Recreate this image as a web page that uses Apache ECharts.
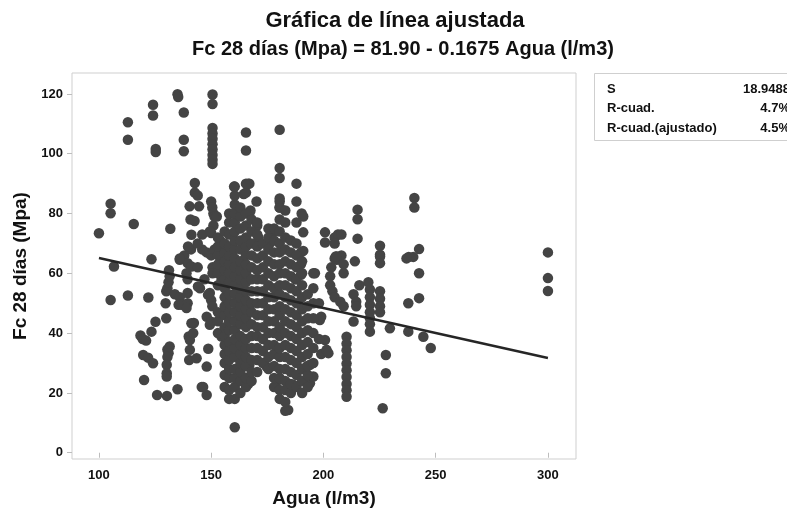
<!DOCTYPE html>
<html>
<head>
<meta charset="utf-8">
<script src="https://cdn.jsdelivr.net/npm/echarts@6/dist/echarts.min.js"></script>
<style>html,body{margin:0;padding:0;background:#fff}#c{width:787px;height:519px}</style>
</head>
<body>
<div id="c"></div>
<script>
// ---- Texts ----
const titulo = 'Gráfica de línea ajustada';
const subtitulo = 'Fc 28 días (Mpa) = 81.90 - 0.1675 Agua (l/m3)';
const ejeX = 'Agua (l/m3)';
const ejeY = 'Fc 28 días (Mpa)';
const ticksX = [100, 150, 200, 250, 300];
const ticksY = [0, 20, 40, 60, 80, 100, 120];
const estadisticas = [['S', '18.9488'], ['R-cuad.', '4.7%'], ['R-cuad.(ajustado)', '4.5%']];
const intercepto = 81.90;
const pendiente = -0.1675;

// ---- Scattered points [Agua, Fc] ----
const puntosIzquierda = [
  [100,73.4],[105.2,83.3],[105.2,80.1],[106.7,62.3],[105.2,51.1],[112.9,110.5],[112.9,104.7],[112.9,52.6],[115.5,76.5],
  [118.5,39.2],[119.5,38],[121,37.5],[119.7,32.7],[121.9,31.8],[124.1,29.9],[120.1,24.3],[122,51.9],[123.4,64.7],
  [125.2,43.8],[123.4,40.5],[125.9,19.3],[124.1,116.4],[124.1,112.8],[125.3,101.6],[125.3,100.6],
  [130,45],[130.3,19],[135,21.2],[129.7,50],[130,54],[130.5,55],[131,57],[131.5,59],[131.2,61],[133.8,53],[131.8,74.9],
  [130.5,34.5],[131.5,35.5],[131,33.3],[130.5,32],[130.2,29.4],[130.2,26.6],[130.2,25.5],
  [135,119.9],[135.3,119],[137.8,113.8],[137.8,104.7],[137.8,100.8],
  [136,52],[135.5,49.5],[137,49.5],[138,66],[136,64.5],[139.5,63.4],[139,60],[139.5,58],[139.5,53.4],[139.5,50],[139,48.4],
  [145,55],[142.3,43.4],[140,38.9],[140.5,37.7],[140.5,34.4],[140.2,31],[143.5,31.6],[141.2,43.3],[142,40],
  [148,45.5],[150,43.8],[148.7,34.8],[148,28.8],[145.8,22],[148,19.3],[146.4,22],[149.4,53.4],[150,51],[150.5,49],
  [154.6,57.8],[154.6,38.9],[149.4,42.8],
  [142.7,90.2],[142.7,87],[144,86],[140.4,82.4],[144.6,82.4],[140.8,78],[142.6,77.5],[141.2,72.9],[146,73],[150,73.5],
  [150,84],[150.5,82],[151,80],[151.5,79],[152.5,79],[151,76],[154,71],[148,67],[150,66],[151.5,68],[141,68],[146,68],[136,65],
  [139.7,69],[144,70],[149.4,74],[141.2,62.3],[144.1,55.6],[148.6,52.8],
  [150.6,119.8],[150.6,116.6],[150.6,108.6],[150.6,106.8],[150.6,105],[150.6,103.2],[150.6,101.4],[150.6,99.6],[150.6,98],[150.6,96.6],
  [150.6,62],[150.6,60],[147,58],[144,62]
];

const puntosCentroSueltos = [
  [165.5,107.1],[165.5,101.1],[180.5,108],[180.5,95.2],[180.5,91.9],[188,90],[188,84],[170.2,84],[167,90],
  [166.5,90],[164.5,86.5],[167,80],[167.5,81],[160.2,89],[190.3,80],[191,79],[188,77],[191,73.7],[180.5,82],
  [180.5,84],[170.5,76],[171,72],[176,70],[178,74],[176,72],[190,67],[191,67.5],[196.2,60],[187.5,58],
  [195.5,60],[190,63],[190,59.5],[174.7,28.8],[179.9,24.3],[184.3,14.3],[194,23.2],[195.5,25.5],[186.6,22.7],
  [192.5,28.8],[194,29.4],[166.5,23],[163.5,25.5],[167,29.3]
];

const puntosDerecha = [
  [200.7,73.7],[200.7,70.3],[205,72],[206.5,73],[208,73],[205,70],[215.2,81.3],[215.2,78.1],[215.2,71.6],
  [225.2,69.2],[225.2,66.2],[240.5,85.2],[240.5,82],[242.6,68.1],[238,65.5],[240,65.5],[205,65],[208,66],
  [205.9,65.6],[205.9,64.5],[214,64],[225.2,65.6],[225.2,63.4],[237,65],[242.6,60],[242.6,51.7],[237.8,50],
  [203.5,62],[203,59],[203,56],[204,54],[205,52],[207.5,50.5],[209,49],[209,60],[209,63],[205.5,65.6],
  [213.4,53],[214.6,50.5],[214.6,49],[213.4,43.9],[216,56],[220,57],
  [220.7,54.6],[220.7,52],[220.7,49.5],[220.7,47],[220.7,45],[220.7,43],[220.7,40.5],
  [225.2,54],[225.2,51.5],[225.2,49],[225.2,47],[229.6,41.6],[237.8,40.5],[244.5,38.8],[247.8,35],
  [210.3,38.8],[210.3,36.5],[210.3,34.3],[210.3,32],[210.3,29.8],[210.3,27.6],[210.3,25.3],[210.3,23],[210.3,20.9],[210.3,18.7],
  [227.8,32.7],[227.8,26.6],[226.4,14.9],
  [199,33],[200.7,37.7],[201.4,34.4],[198.4,44.4],[199,45.5],[202.2,33.3],
  [300,67],[300,58.4],[300,54.1]
];

// ---- Dense vertical bands: [Agua, [Fc values]] ----
const columnasDensas = [
  [153,   [40,44,47,56,60,63,66,69,72]],
  [156,   [22,26,30,33,36,39,42,46,49,52,55,58,61,64,67,70,74]],
  [158,   [18,21,25,28,31,34,37,41,44,47,50,53,57,60,63,66,69,73,77,80]],
  [160.5, [8.5,18,22,25,28,32,35,38,41,44,47,50,53,56,59,62,65,68,71,74,77,80,83,86,89]],
  [163,   [20,24,27,30,33,36,39,43,46,49,52,55,58,61,64,68,71,75,79,82]],
  [165.5, [22,25,29,32,35,38,42,45,48,51,54,57,60,63,66,69,72,76,80,87,90]],
  [168,   [24,27,31,35,39,43,47,50,54,58,62,66,70,74,78]],
  [170.5, [27,31,35,39,42,46,50,54,58,61,65,69,73,77]],
  [173,   [30,34,38,42,46,50,54,58,62,66,70]],
  [175.5, [28,32,36,40,44,48,52,56,60,64,68,72,75]],
  [178,   [22,25,29,33,36,40,44,48,52,55,59,63,67,71,75]],
  [180.5, [18,21,25,28,32,35,39,42,46,49,53,56,60,63,67,70,74,78,82,85]],
  [183,   [14,17,21,24,28,32,36,40,44,48,52,56,60,64,68,72,77,81]],
  [185.5, [20,23,27,31,35,39,43,47,51,55,59,63,67,71]],
  [188,   [22,26,30,34,38,42,46,50,54,58,62,66,70]],
  [190.5, [20,24,28,32,36,40,44,48,52,56,60,64]],
  [193,   [22,26,29,33,37,41,45,49,53]],
  [195.5, [30,35,40,45,50,55]],
  [198,   [38,50]]
];

// ---- Build scatter data ----
const datos = [].concat(puntosIzquierda, puntosCentroSueltos, puntosDerecha);
columnasDensas.forEach(([x, ys]) => ys.forEach(y => datos.push([x, y])));

const xs = datos.map(d => d[0]);
const xMin = Math.min.apply(null, xs), xMax = Math.max.apply(null, xs);
const lineaAjuste = [[xMin, intercepto + pendiente * xMin], [xMax, intercepto + pendiente * xMax]];

const FONT = '"Liberation Sans", Arial, Helvetica, sans-serif';
const chart = echarts.init(document.getElementById('c'), null, {renderer: 'canvas'});

const statGraphics = [{
  type: 'rect', shape: {x: 594.5, y: 73.5, width: 220, height: 67},
  style: {fill: '#fff', stroke: '#cfcfcf', lineWidth: 1}, silent: true
}];
estadisticas.forEach((row, i) => {
  const yy = 89 + i * 19.5;
  statGraphics.push({type: 'text', x: 607, y: yy, style: {text: row[0], font: 'bold 13px ' + FONT, fill: '#111', textVerticalAlign: 'middle', textAlign: 'left'}});
  statGraphics.push({type: 'text', x: 790, y: yy, style: {text: row[1], font: 'bold 13px ' + FONT, fill: '#111', textVerticalAlign: 'middle', textAlign: 'right'}});
});

chart.setOption({
  animation: false,
  backgroundColor: '#fff',
  textStyle: {fontFamily: FONT},
  grid: {left: 72, right: 211, top: 73, bottom: 60, show: true, borderColor: '#cfcfcf', borderWidth: 1, backgroundColor: '#fff'},
  xAxis: {
    type: 'value', min: 88, max: 312.5,
    name: ejeX, nameLocation: 'middle', nameGap: 30,
    nameTextStyle: {fontSize: 19, fontWeight: 'bold', color: '#111', fontFamily: FONT},
    axisLine: {show: false},
    axisTick: {show: true, length: 5, inside: false, lineStyle: {color: '#bdbdbd'}, customValues: ticksX},
    axisLabel: {margin: 10, fontSize: 13, fontWeight: 'bold', color: '#111', customValues: ticksX},
    splitLine: {show: false}
  },
  yAxis: {
    type: 'value', min: -2.1, max: 127,
    name: ejeY, nameLocation: 'middle', nameGap: 38,
    nameTextStyle: {fontSize: 19, fontWeight: 'bold', color: '#111', fontFamily: FONT},
    axisLine: {show: false},
    axisTick: {show: true, length: 5, inside: false, lineStyle: {color: '#bdbdbd'}, customValues: ticksY},
    axisLabel: {margin: 9, fontSize: 13, fontWeight: 'bold', color: '#111', customValues: ticksY},
    splitLine: {show: false}
  },
  graphic: [
    {type: 'text', x: 395, y: 21, style: {text: titulo, font: 'bold 22px ' + FONT, fill: '#111', textAlign: 'center', textVerticalAlign: 'middle'}},
    {type: 'text', x: 403, y: 49, style: {text: subtitulo, font: 'bold 20px ' + FONT, fill: '#111', textAlign: 'center', textVerticalAlign: 'middle'}}
  ].concat(statGraphics),
  series: [
    {type: 'scatter', data: datos, symbol: 'circle', symbolSize: 10.5, itemStyle: {color: '#444444', opacity: 1}, z: 2},
    {type: 'line', data: lineaAjuste, symbol: 'none', lineStyle: {color: '#262626', width: 2.5}, z: 3}
  ]
});
</script>
</body>
</html>
